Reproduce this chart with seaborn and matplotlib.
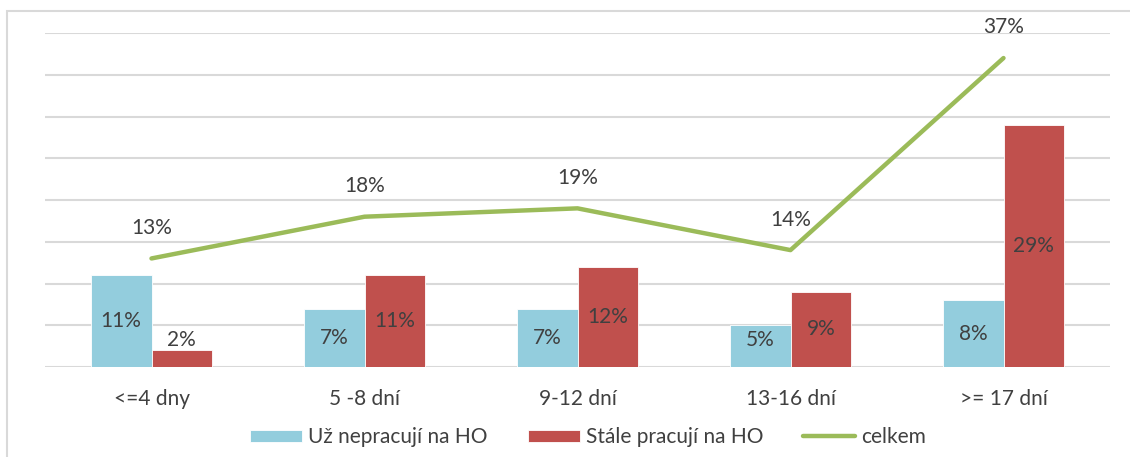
import numpy as np
import pandas as pd
import seaborn as sns
import matplotlib
matplotlib.use('Agg')
import matplotlib.pyplot as plt
from matplotlib.patches import Rectangle

# data (percent)
kategorie = ['<=4 dny', '5 -8 dní', '9-12 dní', '13-16 dní', '>= 17 dní']
uz_nepracuji = [11, 7, 7, 5, 8]
stale_pracuji = [2, 11, 12, 9, 29]
celkem = [13, 18, 19, 14, 37]

serie = ['Už nepracují na HO', 'Stále pracují na HO']
barvy = ['#93CDDD', '#C0504D']
zelena = '#9BBB59'
text_col = '#404040'

df = pd.DataFrame({
    'kat': kategorie * 2,
    'skupina': [serie[0]] * len(kategorie) + [serie[1]] * len(kategorie),
    'hodnota': uz_nepracuji + stale_pracuji,
})

sns.set_style('white')
plt.rcParams['font.family'] = ['Lato', 'DejaVu Sans']
fs = 15

fig = plt.figure(figsize=(11.3, 4.57), dpi=100)
ax = fig.add_axes([45 / 1130, 90 / 457, 1065 / 1130, 334 / 457])

sns.barplot(data=df, x='kat', y='hodnota', hue='skupina', order=kategorie,
            hue_order=serie, palette=barvy, width=0.57, saturation=1,
            edgecolor='white', linewidth=0.6, ax=ax, zorder=3)

x = np.arange(len(kategorie))
sns.lineplot(x=x, y=celkem, color=zelena, linewidth=3.2, ax=ax, label='celkem',
             zorder=4, solid_capstyle='round')

# bar labels: centred, pushed up a bit for the short bars
for cont in ax.containers:
    for bar in cont:
        h = bar.get_height()
        ax.text(bar.get_x() + bar.get_width() / 2, max(h / 2, 3.2), f'{h:.0f}%',
                ha='center', va='center', fontsize=fs, color=text_col, zorder=5)

for xi, v in zip(x, celkem):
    ax.annotate(f'{v}%', (xi, v), xytext=(0, 22), textcoords='offset points',
                ha='center', va='center', fontsize=fs, color=text_col, zorder=5,
                annotation_clip=False)

ax.set_ylim(0, 40)
ax.set_xlim(-0.5, len(kategorie) - 0.5)
ax.set_yticks(np.arange(0, 41, 5))
ax.set_yticklabels([])
ax.yaxis.grid(True, color='#D9D9D9', linewidth=1.5, zorder=0)
ax.set_axisbelow(True)
ax.tick_params(axis='x', length=0, pad=16, labelsize=fs, labelcolor=text_col)
ax.tick_params(axis='y', length=0)
ax.set_xlabel('')
ax.set_ylabel('')
sns.despine(ax=ax, left=True, bottom=True, top=True, right=True)

h, l = ax.get_legend_handles_labels()
ax.legend(h, l, loc='center', bbox_to_anchor=(0.51, -0.21), ncol=3, frameon=False,
          fontsize=fs, labelcolor=text_col, handlelength=2.5, handleheight=0.5,
          handletextpad=0.3, columnspacing=1.9)

fig.add_artist(Rectangle((7 / 1130, -0.1), 1.2, (457 - 11) / 457 + 0.1,
                         transform=fig.transFigure, fill=False,
                         edgecolor='#D9D9D9', linewidth=1.5))

fig.savefig('out.png', dpi=100)
